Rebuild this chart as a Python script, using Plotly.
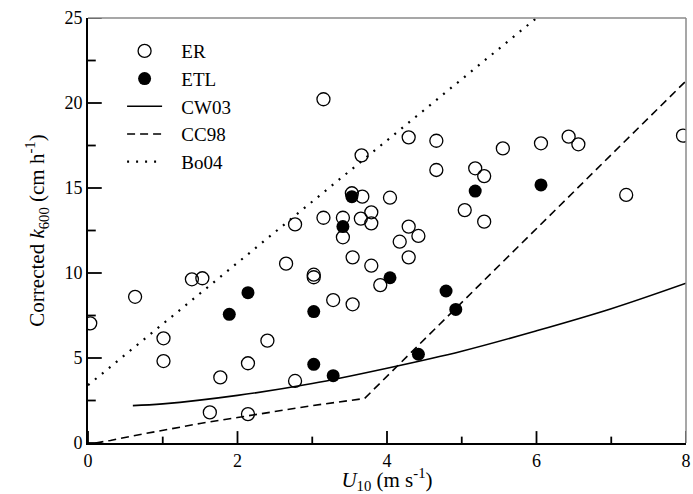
import plotly.graph_objects as go

# ER observations (U10 in m s-1, corrected k600 in cm h-1)
er_u10 = [0.03, 0.63, 1.01, 1.01, 1.39, 1.53, 1.63, 1.77, 2.14, 2.14, 2.40, 2.65,
          2.77, 2.77, 3.02, 3.02, 3.15, 3.15, 3.28, 3.41, 3.41, 3.53, 3.54, 3.54,
          3.65, 3.67, 3.66, 3.79, 3.79, 3.79, 3.91, 4.04, 4.17, 4.29, 4.29, 4.29,
          4.42, 4.66, 4.66, 5.04, 5.18, 5.30, 5.30, 5.55, 6.06, 6.43, 6.56, 7.20, 7.96]
er_k600 = [7.04, 8.60, 6.16, 4.82, 9.63, 9.69, 1.80, 3.86, 4.69, 1.70, 6.02, 10.55,
           3.65, 12.86, 9.90, 9.75, 13.25, 20.22, 8.41, 13.25, 12.10, 14.69, 10.92, 8.16,
           13.20, 14.49, 16.92, 13.57, 12.92, 10.43, 9.29, 14.43, 11.84, 17.98, 12.73, 10.92,
           12.18, 17.78, 16.06, 13.70, 16.16, 15.70, 13.02, 17.33, 17.63, 18.02, 17.57, 14.59, 18.08]

# ETL observations
etl_u10 = [1.89, 2.14, 3.02, 3.02, 3.28, 3.41, 3.53, 4.04, 4.42, 4.79, 4.92, 5.18, 6.06]
etl_k600 = [7.57, 8.84, 7.73, 4.63, 3.96, 12.73, 14.49, 9.72, 5.22, 8.94, 7.86, 14.82, 15.18]

# Model curves
cw03_u10 = [0.6, 1.0, 2.0, 3.0, 4.0, 5.0, 6.0, 7.0, 8.0]
cw03_k600 = [2.2, 2.3, 2.8, 3.5, 4.4, 5.4, 6.6, 7.9, 9.4]

cc98_u10 = [0.1, 0.3, 0.6, 1.0, 1.5, 2.0, 2.5, 3.0, 3.5, 3.7, 8.0]
cc98_k600 = [0.0, 0.15, 0.42, 0.75, 1.15, 1.5, 1.85, 2.2, 2.5, 2.62, 21.3]

bo04_u10 = [0.0, 6.0]
bo04_k600 = [3.4, 25.0]

x_ticks = [0, 2, 4, 6, 8]
x_minor = [1, 3, 5, 7]
y_ticks = [0, 5, 10, 15, 20, 25]
y_minor = [2.5, 7.5, 12.5, 17.5, 22.5]

X_RANGE = [0, 8]
Y_RANGE = [0, 25]

serif = "Liberation Serif, Times New Roman, serif"
pad = "\u00a0\u00a0\u00a0"

fig = go.Figure()

# Inward tick marks on the bottom and left axes, drawn as short segments
# (lengths given as fractions of the axis span)
def tick_segments(values, frac_len, vertical):
    xs, ys = [], []
    for v in values:
        if vertical:
            ln = frac_len * (Y_RANGE[1] - Y_RANGE[0])
            xs += [v, v, None]
            ys += [Y_RANGE[0], Y_RANGE[0] + ln, None]
        else:
            ln = frac_len * (X_RANGE[1] - X_RANGE[0])
            xs += [X_RANGE[0], X_RANGE[0] + ln, None]
            ys += [v, v, None]
    return xs, ys

for vals, frac, vert in [(x_ticks, 0.028, True), (x_minor, 0.015, True),
                         (y_ticks, 0.023, False), (y_minor, 0.013, False)]:
    tx, ty = tick_segments(vals, frac, vert)
    fig.add_trace(go.Scatter(x=tx, y=ty, mode="lines", showlegend=False,
                             hoverinfo="skip", cliponaxis=False,
                             line=dict(color="black", width=1.8)))

fig.add_trace(go.Scatter(
    x=cw03_u10, y=cw03_k600, mode="lines", name=pad + "CW03", legendrank=3,
    line=dict(color="black", width=1.6, shape="spline"),
))
fig.add_trace(go.Scatter(
    x=cc98_u10, y=cc98_k600, mode="lines", name=pad + "CC98", legendrank=4,
    line=dict(color="black", width=1.6, dash="8px,5px"),
))
fig.add_trace(go.Scatter(
    x=bo04_u10, y=bo04_k600, mode="lines", name=pad + "Bo04", legendrank=5,
    line=dict(color="black", width=2.2, dash="2px,7px"),
))
fig.add_trace(go.Scatter(
    x=er_u10, y=er_k600, mode="markers", name=pad + "ER", legendrank=1,
    marker=dict(symbol="circle-open", size=13, color="black", line=dict(width=1.3)),
))
fig.add_trace(go.Scatter(
    x=etl_u10, y=etl_k600, mode="markers", name=pad + "ETL", legendrank=2,
    marker=dict(symbol="circle", size=13, color="black"),
))

fig.update_layout(
    width=693, height=494,
    margin=dict(l=88, r=7, t=18, b=51),
    paper_bgcolor="white", plot_bgcolor="white",
    font=dict(family=serif, size=18, color="black"),
    showlegend=True,
    legend=dict(
        x=0.057, y=0.967, xanchor="left", yanchor="top",
        bgcolor="rgba(0,0,0,0)", font=dict(family=serif, size=19),
        itemwidth=35, tracegroupgap=0,
    ),
    xaxis=dict(
        range=X_RANGE, tickmode="array", tickvals=x_ticks, ticks="",
        showline=True, linecolor="black", linewidth=1.8, automargin=False,
        showgrid=False, zeroline=False, showticklabels=True,
        title=dict(text="<i>U</i><sub>10</sub> (m s<sup>-1</sup>)",
                   font=dict(family=serif, size=21), standoff=8),
        tickfont=dict(family=serif, size=18),
    ),
    yaxis=dict(
        range=Y_RANGE, tickmode="array", tickvals=y_ticks, ticks="",
        showline=True, linecolor="black", linewidth=1.8, automargin=False,
        showgrid=False, zeroline=False, showticklabels=True,
        title=dict(text="Corrected <i>k</i><sub>600</sub> (cm h<sup>-1</sup>)",
                   font=dict(family=serif, size=21), standoff=14),
        tickfont=dict(family=serif, size=18),
    ),
    shapes=[
        dict(type="line", xref="paper", yref="paper", x0=0, x1=1, y0=1, y1=1,
             line=dict(color="#8a8a8a", width=1.5)),
        dict(type="line", xref="paper", yref="paper", x0=1, x1=1, y0=0, y1=1,
             line=dict(color="#8a8a8a", width=1.5)),
    ],
)

fig.write_html("out.html")
